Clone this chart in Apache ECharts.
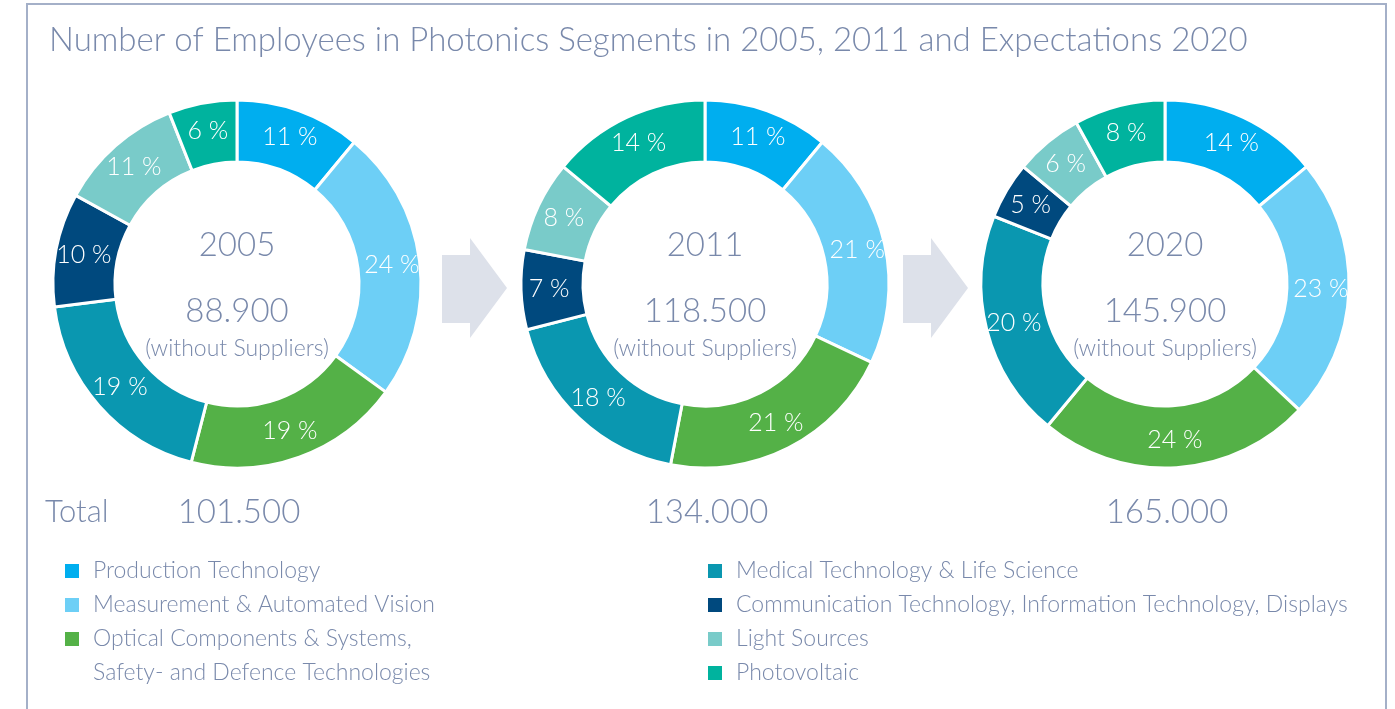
<!DOCTYPE html>
<html>
<head>
<meta charset="utf-8">
<title>Photonics Employees</title>
<script src="https://cdn.jsdelivr.net/npm/echarts@6/dist/echarts.min.js"></script>
<style>
  html, body { margin: 0; padding: 0; background: #fff; }
  #chart { width: 1395px; height: 709px; }
</style>
</head>
<body>
<div id="chart"></div>
<script>
const segments = [
  'Production Technology',
  'Measurement & Automated Vision',
  'Optical Components & Systems, Safety- and Defence Technologies',
  'Medical Technology & Life Science',
  'Communication Technology, Information Technology, Displays',
  'Light Sources',
  'Photovoltaic'
];
const share2005 = [11, 24, 19, 19, 10, 11, 6];
const share2011 = [11, 21, 21, 18, 7, 8, 14];
const share2020 = [14, 23, 24, 20, 5, 6, 8];
const years = ['2005', '2011', '2020'];
const withoutSuppliers = ['88.900', '118.500', '145.900'];
const totals = ['101.500', '134.000', '165.000'];

const palette = ['#00aeef', '#6dcff6', '#54b147', '#0a97b0', '#00497e', '#79cbc9', '#00b39e'];
const textColor = '#7989ab';
const font = 'Lato, "Open Sans", sans-serif';

const centers = [[237, 284], [705, 284], [1165, 284]];
const shares = [share2005, share2011, share2020];

const chart = echarts.init(document.getElementById('chart'));

const series = shares.map((vals, k) => ({
  type: 'pie',
  center: centers[k],
  radius: [122, 184],
  startAngle: 90,
  clockwise: true,
  avoidLabelOverlap: false,
  animation: false,
  itemStyle: { borderColor: '#fff', borderWidth: 3 },
  label: {
    show: true,
    position: 'inside',
    formatter: '{c} %',
    color: '#fff',
    fontSize: 25,
    fontFamily: font,
    fontWeight: 300
  },
  labelLine: { show: false },
  emphasis: { scale: false },
  data: segments.map((name, i) => ({ name, value: vals[i] }))
}));

const txt = (x, y, text, size, align) => ({
  type: 'text',
  x, y,
  style: {
    text,
    fill: textColor,
    font: `300 ${size}px ${font}`,
    textAlign: align || 'center',
    textVerticalAlign: 'middle'
  }
});

const arrow = (x0) => ({
  type: 'polygon',
  shape: {
    points: [[x0, 255], [x0 + 28, 255], [x0 + 28, 238], [x0 + 65, 288],
             [x0 + 28, 338], [x0 + 28, 323], [x0, 323]]
  },
  style: { fill: '#dde1ea' }
});

const graphics = [
  {
    type: 'rect',
    shape: { x: 27, y: 4, width: 1359, height: 720 },
    style: { fill: 'none', stroke: '#a4b0c8', lineWidth: 2 }
  },
  txt(49, 40, 'Number of Employees in Photonics Segments in 2005, 2011 and Expectations 2020', 33, 'left'),
  arrow(442),
  arrow(903),
  txt(45, 512, 'Total', 31, 'left')
];
centers.forEach((c, k) => {
  graphics.push(txt(c[0], 245, years[k], 33));
  graphics.push(txt(c[0], 311, withoutSuppliers[k], 33));
  graphics.push(txt(c[0], 349, '(without Suppliers)', 23));
  graphics.push(txt(c[0] + 2, 512, totals[k], 33));
});

const legendText = {
  color: textColor,
  fontSize: 23,
  fontFamily: font,
  fontWeight: 300,
  lineHeight: 34,
  padding: [0, 0, 0, 8]
};

chart.setOption({
  backgroundColor: '#fff',
  color: palette,
  legend: [
    {
      orient: 'vertical', left: 63, top: 554, padding: 0, itemGap: 0,
      itemWidth: 16, itemHeight: 16, icon: 'rect',
      data: segments.slice(0, 2),
      textStyle: legendText
    },
    {
      // leading blank line keeps the first text line level with the icon
      orient: 'vertical', left: 63, top: 588, padding: 0, itemGap: 0,
      itemWidth: 16, itemHeight: 16, icon: 'rect',
      data: segments.slice(2, 3),
      formatter: name => '\n' + name.replace(', ', ',\n'),
      textStyle: legendText
    },
    {
      orient: 'vertical', left: 706, top: 554, padding: 0, itemGap: 0,
      itemWidth: 16, itemHeight: 16, icon: 'rect',
      data: segments.slice(3),
      textStyle: legendText
    }
  ],
  graphic: graphics,
  series
});
</script>
</body>
</html>
